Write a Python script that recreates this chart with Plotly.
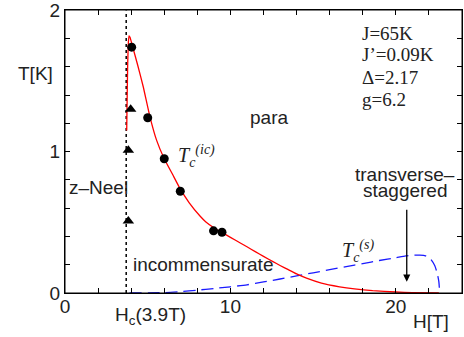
import plotly.graph_objects as go

# ---- data ----
x_ticks = [0, 2, 4, 6, 8, 10, 12, 14, 16, 18, 20, 22, 24]
x_ticklabels = ["0", "", "", "", "", "10", "", "", "", "", "20", "", ""]
y_ticks = [0, 0.2, 0.4, 0.6, 0.8, 1.0, 1.2, 1.4, 1.6, 1.8, 2.0]
y_ticklabels = ["0", "", "", "", "", "1", "", "", "", "", "2"]

hc_line = 3.7

tc_ic_H = [3.73, 3.76, 3.79, 3.83, 3.87, 3.93, 4.05, 4.4, 4.73, 5.14, 5.54, 6.0, 6.5,
           6.95, 7.5, 8.16, 8.5, 9.0, 9.49, 10.0, 10.57, 11.0, 11.5, 12.0, 12.57, 13.0,
           13.5, 14.0, 14.6, 15.5, 16.6, 17.5, 18.6, 20.0, 21.0, 22.6]
tc_ic_T = [1.15, 1.40, 1.62, 1.77, 1.82, 1.81, 1.76, 1.61, 1.46, 1.245, 1.08, 0.95, 0.84,
           0.74, 0.64, 0.545, 0.505, 0.462, 0.428, 0.394, 0.356, 0.327, 0.293, 0.259, 0.222,
           0.195, 0.165, 0.135, 0.105, 0.07, 0.044, 0.029, 0.017, 0.007, 0.003, 0.0]

tc_s_H = [3.9, 6.0, 7.0, 8.0, 9.0, 10.0, 11.0, 12.0, 13.0, 14.0, 15.0, 16.0, 17.0,
          18.0, 19.0, 20.0, 20.6, 21.0, 21.45, 21.8, 22.1, 22.35, 22.5, 22.6, 22.65]
tc_s_T = [0.0, 0.003, 0.01, 0.02, 0.032, 0.044, 0.058, 0.078, 0.099, 0.121, 0.143,
          0.165, 0.187, 0.208, 0.23, 0.25, 0.262, 0.267, 0.268, 0.263, 0.24, 0.195,
          0.14, 0.08, 0.0]

circ_H = [4.03, 5.0, 6.0, 6.97, 8.98, 9.49]
circ_T = [1.74, 1.24, 0.95, 0.72, 0.44, 0.43]

tri_H = [3.97, 3.83, 3.83]
tri_T = [1.30, 1.01, 0.51]

params = ["J=65K", "J’=0.09K", "Δ=2.17", "g=6.2"]
params_T = [1.84, 1.685, 1.525, 1.37]

SANS = "Liberation Sans, Arial, sans-serif"
SERIF = "Liberation Serif, Times New Roman, serif"
TXT = "#222222"

fig = go.Figure()

fig.add_trace(go.Scatter(x=[hc_line, hc_line], y=[0, 2], mode="lines",
                         line=dict(color="black", width=1.5, dash="dot"),
                         showlegend=False, hoverinfo="skip"))
fig.add_trace(go.Scatter(x=tc_s_H, y=tc_s_T, mode="lines",
                         line=dict(color="#1a1aff", width=1.3, dash="12px,6px",
                                   shape="spline", smoothing=0.6),
                         showlegend=False))
fig.add_trace(go.Scatter(x=tc_ic_H, y=tc_ic_T, mode="lines",
                         line=dict(color="#ff0000", width=1.3, shape="spline", smoothing=0.4),
                         showlegend=False))
fig.add_trace(go.Scatter(x=circ_H, y=circ_T, mode="markers",
                         marker=dict(symbol="circle", size=9, color="black"),
                         showlegend=False))
fig.add_trace(go.Scatter(x=tri_H, y=tri_T, mode="markers",
                         marker=dict(symbol="triangle-up", size=10, color="black"),
                         showlegend=False))
# invisible trace to activate the mirrored top/right tick axes
fig.add_trace(go.Scatter(x=[0], y=[0], xaxis="x2", yaxis="y2", mode="markers",
                         marker=dict(opacity=0), showlegend=False, hoverinfo="skip"))

ann = []
def txt(x, y, s, xanchor="center", font=SANS, size=19, yanchor="middle"):
    ann.append(dict(x=x, y=y, xref="x", yref="y", text=s, showarrow=False,
                    xanchor=xanchor, yanchor=yanchor,
                    font=dict(family=font, size=size, color=TXT)))

txt(12.31, 1.24, "para")
txt(0.15, 0.75, "z–Neel", xanchor="left")
txt(3.98, 0.20, "incommensurate", xanchor="left")
txt(20.55, 0.84, "transverse–")
txt(20.6, 0.725, "staggered")
for s, t in zip(params, params_T):
    txt(17.85, t, s, xanchor="left", font=SERIF)
txt(6.7, 0.97, "<i>T</i><sub><i>c</i></sub><sup><i>(ic)</i></sup>", xanchor="left",
    font=SERIF, size=20)
txt(16.65, 0.30, "<i>T</i><sub><i>c</i></sub><sup><i>(s)</i></sup>", xanchor="left",
    font=SERIF, size=20)

ann.append(dict(x=20.66, y=0.08, ax=20.66, ay=0.60, xref="x", yref="y",
                axref="x", ayref="y", showarrow=True, arrowhead=2, arrowsize=1.1,
                arrowwidth=1.3, arrowcolor="black", text=""))

W, H = 464, 337
L, R, T, B = 65, 2, 10, 44
pw, ph = W - L - R, H - T - B

def pix(px, py, s):
    ann.append(dict(x=(px - L) / pw, y=(H - B - py) / ph, xref="paper", yref="paper",
                    text=s, showarrow=False, xanchor="center", yanchor="middle",
                    font=dict(family=SANS, size=19, color=TXT)))

pix(35, 73, "T[K]")
pix(431, 321, "H[T]")
pix(150, 316, "H<sub>c</sub>(3.9T)")

XR = [0, 24]
YR = [0, 2.003]

axis_common = dict(ticks="inside", ticklen=5, tickwidth=1, tickcolor="black",
                   showline=True, linecolor="black", linewidth=1, mirror=True,
                   showgrid=False, zeroline=False, automargin=False,
                   tickfont=dict(family=SANS, size=19, color=TXT))
mirror_axis = dict(ticks="inside", ticklen=5, tickwidth=1, tickcolor="black",
                   showline=True, linecolor="black", linewidth=1,
                   showgrid=False, zeroline=False, automargin=False,
                   showticklabels=False)

fig.update_layout(
    template="none",
    width=W, height=H, margin=dict(l=L, r=R, t=T, b=B, autoexpand=False),
    paper_bgcolor="white", plot_bgcolor="white",
    font=dict(family=SANS, size=19, color=TXT),
    annotations=ann,
    xaxis=dict(range=XR, tickvals=x_ticks, ticktext=x_ticklabels,
               ticklabelstandoff=-4, **axis_common),
    yaxis=dict(range=YR, tickvals=y_ticks, ticktext=y_ticklabels, **axis_common),
    xaxis2=dict(range=XR, tickvals=x_ticks, overlaying="x", side="top", anchor="y2",
                **mirror_axis),
    yaxis2=dict(range=YR, tickvals=y_ticks, overlaying="y", side="right", anchor="x2",
                **mirror_axis),
    shapes=[dict(type="rect", xref="paper", yref="paper", x0=0, y0=0, x1=1, y1=1,
                 line=dict(color="black", width=1), layer="above")],
)

fig.write_html("out.html",
               config={"displayModeBar": False},
               post_script="document.body.style.margin='0';"
                           "document.body.style.padding='0';"
                           "document.body.style.overflow='hidden';")
